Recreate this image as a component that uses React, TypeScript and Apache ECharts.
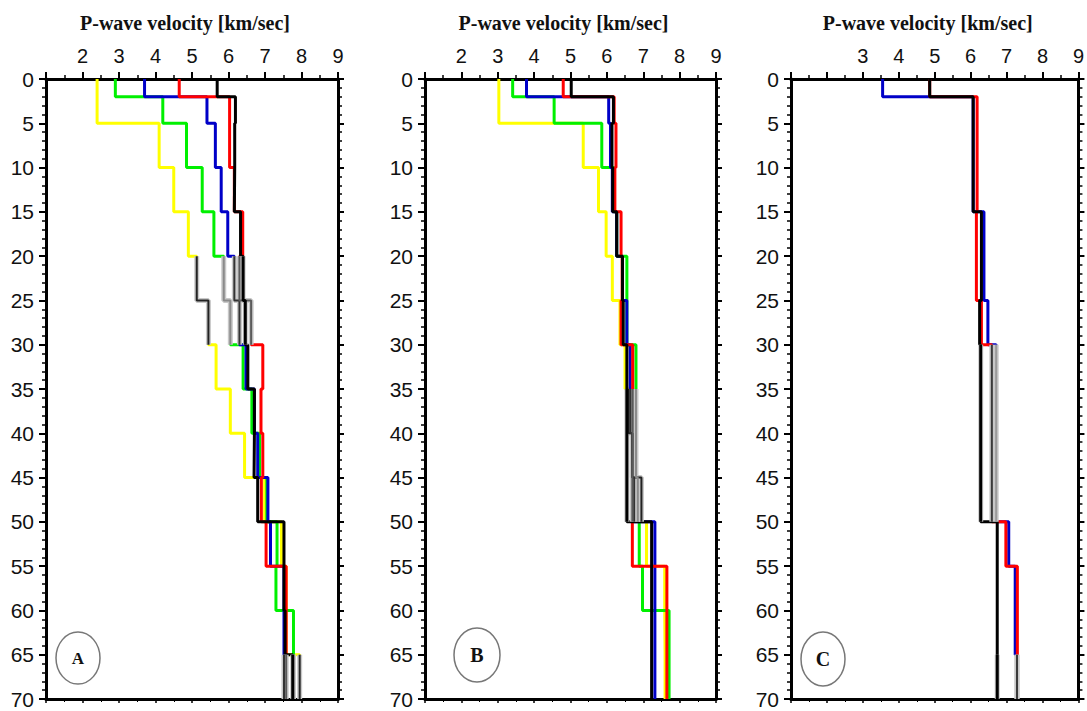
import React, { useEffect, useRef } from "react";
import * as echarts from "echarts";

// ---------------- data ----------------
// layer boundaries (km): each velocity below belongs to the layer DEPTHS[i]..DEPTHS[i+1]
const DEPTHS = [0, 2, 5, 10, 15, 20, 25, 30, 35, 40, 45, 50, 55, 60, 65, 70];
const AXIS_TITLE = "P-wave velocity [km/sec]";
const TOP_LABELS_AB = [2, 3, 4, 5, 6, 7, 8, 9];
const TOP_LABELS_C = [3, 4, 5, 6, 7, 8, 9];
const PANEL_LETTERS = ["A", "B", "C"];

// Panel A velocity profiles (km/s)
const A_YELLOW = [2.4, 2.4, 4.1, 4.5, 4.9, 5.13, 5.45, 5.66, 6.05, 6.44, 6.99, 7.45, 7.58, 7.58, 7.95];
const A_GREEN = [2.9, 4.2, 4.85, 5.28, 5.6, 5.87, 6.05, 6.4, 6.64, 6.85, 7.05, 7.33, 7.3, 7.78, 7.78];
const A_BLUE = [3.7, 5.41, 5.64, 5.8, 5.98, 6.16, 6.3, 6.48, 6.71, 6.8, 7.08, 7.15, 7.52, 7.52, 7.52];
const A_RED = [4.65, 6.03, 6.03, 6.16, 6.39, 6.3, 6.62, 6.94, 6.89, 6.94, 6.9, 7.03, 7.58, 7.58, 7.58];
const A_BLACK = [5.69, 6.19, 6.17, 6.16, 6.33, 6.4, 6.46, 6.53, 6.71, 6.7, 6.8, 7.52, 7.52, 7.55, 7.76];
const A_GRAY_BANDS = [[20, 30], [65, 70]];

// Panel B velocity profiles (km/s)
const B_YELLOW = [3.03, 3.03, 5.35, 5.77, 5.98, 6.15, 6.36, 6.5, 6.6, 6.7, 6.95, 7.09, 7.59, 7.6, 7.6];
const B_GREEN = [3.41, 4.55, 5.86, 6.2, 6.27, 6.55, 6.55, 6.8, 6.8, 6.8, 6.85, 6.89, 6.98, 7.71, 7.71];
const B_BLUE = [3.79, 6.05, 6.1, 6.15, 6.27, 6.43, 6.55, 6.64, 6.65, 6.7, 6.75, 7.32, 7.32, 7.32, 7.32];
const B_RED = [4.8, 6.2, 6.25, 6.22, 6.39, 6.42, 6.39, 6.71, 6.71, 6.7, 6.7, 6.7, 7.65, 7.65, 7.65];
const B_BLACK = [5.02, 6.18, 6.14, 6.16, 6.27, 6.43, 6.45, 6.55, 6.55, 6.55, 6.55, 7.23, 7.23, 7.23, 7.23];
const B_GRAY_BANDS = [[35, 50]];

// Panel C velocity profiles (km/s)
const C_BLUE = [3.55, 6.07, 6.07, 6.07, 6.37, 6.37, 6.48, 6.71, 6.71, 6.71, 6.71, 7.06, 7.24, 7.24, 7.29];
const C_RED = [4.86, 6.18, 6.18, 6.18, 6.16, 6.16, 6.3, 6.59, 6.59, 6.59, 6.59, 6.98, 7.3, 7.3, 7.29];
const C_BLACK = [4.86, 6.07, 6.07, 6.07, 6.3, 6.3, 6.25, 6.28, 6.28, 6.28, 6.28, 6.74, 6.74, 6.74, 6.74];
const C_GRAY_BANDS = [[30, 50], [65, 70]];

const COLORS: Record<string, string> = {
  yellow: "#ffff00",
  green: "#00f000",
  blue: "#0000c8",
  red: "#ff0000",
  black: "#000000",
};

const PANELS = [
  {
    profiles: [[A_YELLOW, "yellow"], [A_GREEN, "green"], [A_BLUE, "blue"], [A_RED, "red"], [A_BLACK, "black"]],
    // how each profile looks inside the scanned grey bands
    bandColors: ["#222222", "#8a8a8a", "#333333", "#5a5a5a", "#000000"],
    bands: A_GRAY_BANDS,
    labels: TOP_LABELS_AB,
  },
  {
    profiles: [[B_YELLOW, "yellow"], [B_GREEN, "green"], [B_BLUE, "blue"], [B_RED, "red"], [B_BLACK, "black"]],
    bandColors: ["#222222", "#8a8a8a", "#333333", "#5a5a5a", "#000000"],
    bands: B_GRAY_BANDS,
    labels: TOP_LABELS_AB,
  },
  {
    profiles: [[C_BLUE, "blue"], [C_RED, "red"], [C_BLACK, "black"]],
    bandColors: ["#9a9a9a", "#3a3a3a", "#000000"],
    bands: C_GRAY_BANDS,
    labels: TOP_LABELS_C,
  },
];

// ---------------- layout ----------------
const GRID_TOP = 79;
const GRID_H = 620;
const GRID_LEFTS = [46, 425, 791];
const GRID_W = [292, 291, 291];
const BADGES = [
  { dx: 32, cy: 658, rx: 22, ry: 26, size: 17 },
  { dx: 52, cy: 655, rx: 23, ry: 27, size: 20 },
  { dx: 32, cy: 659, rx: 22, ry: 27, size: 20 },
];

function stepPoints(vel: number[], d0 = 0, d1 = 70) {
  const pts: number[][] = [];
  for (let i = 0; i < vel.length; i++) {
    const top = DEPTHS[i];
    const bot = DEPTHS[i + 1];
    if (bot <= d0 || top >= d1) continue;
    pts.push([vel[i], Math.max(top, d0)], [vel[i], Math.min(bot, d1)]);
  }
  return pts;
}

function buildOption() {
  const grid: any[] = [];
  const xAxis: any[] = [];
  const yAxis: any[] = [];
  const series: any[] = [];
  const graphic: any[] = [];

  PANELS.forEach((p, k) => {
    grid.push({ left: GRID_LEFTS[k], top: GRID_TOP, width: GRID_W[k], height: GRID_H, containLabel: false });
    const labels = p.labels;
    xAxis.push({
      gridIndex: k,
      type: "value",
      position: "top",
      min: 1,
      max: 9,
      interval: 1,
      name: AXIS_TITLE,
      nameLocation: "middle",
      nameGap: 46,
      nameTextStyle: {
        fontFamily: "Liberation Serif",
        fontWeight: "bold",
        fontSize: 20,
        color: "#111",
        padding: [0, 14, 0, 0],
      },
      axisLine: { show: true, onZero: false, lineStyle: { color: "#000", width: 3 } },
      axisTick: { show: true, inside: false, length: 7, lineStyle: { color: "#000", width: 2 } },
      minorTick: { show: true, splitNumber: 2, length: 4, lineStyle: { color: "#000", width: 1.5 } },
      axisLabel: {
        show: true,
        margin: 13,
        fontFamily: "Liberation Sans",
        fontSize: 20,
        color: "#111",
        formatter: (v: number) => (labels.includes(v) ? String(v) : ""),
      },
      splitLine: { show: false },
      minorSplitLine: { show: false },
    });
    xAxis.push({
      gridIndex: k,
      type: "value",
      position: "bottom",
      min: 1,
      max: 9,
      interval: 1,
      axisLine: { show: true, onZero: false, lineStyle: { color: "#000", width: 3 } },
      axisTick: { show: true, inside: false, length: 4, lineStyle: { color: "#000", width: 1.5 } },
      minorTick: { show: true, splitNumber: 2, length: 3, lineStyle: { color: "#000", width: 1 } },
      axisLabel: { show: false },
      splitLine: { show: false },
    });
    yAxis.push({
      gridIndex: k,
      type: "value",
      position: "left",
      inverse: true,
      min: 0,
      max: 70,
      interval: 5,
      axisLine: { show: true, onZero: false, lineStyle: { color: "#000", width: 3 } },
      axisTick: { show: true, inside: false, length: 7, lineStyle: { color: "#000", width: 2 } },
      minorTick: { show: true, splitNumber: 5, length: 4, lineStyle: { color: "#000", width: 1.5 } },
      axisLabel: { show: true, margin: 12, fontFamily: "Liberation Sans", fontSize: 21, color: "#111" },
      splitLine: { show: false },
    });
    yAxis.push({
      gridIndex: k,
      type: "value",
      position: "right",
      inverse: true,
      min: 0,
      max: 70,
      interval: 5,
      axisLine: { show: true, onZero: false, lineStyle: { color: "#000", width: 3 } },
      axisTick: { show: true, inside: false, length: 6, lineStyle: { color: "#000", width: 2 } },
      minorTick: { show: true, splitNumber: 5, length: 4, lineStyle: { color: "#000", width: 1.5 } },
      axisLabel: { show: false },
      splitLine: { show: false },
    });

    p.profiles.forEach(([vel, colorName], j) => {
      series.push({
        type: "line",
        xAxisIndex: 2 * k,
        yAxisIndex: 2 * k,
        data: stepPoints(vel as number[]),
        symbol: "none",
        silent: true,
        z: 2 + j,
        lineStyle: { color: COLORS[colorName as string], width: 3 },
      });
    });
    // scanned grey/black bands of the original figure
    p.bands.forEach(([d0, d1]) => {
      p.profiles.forEach(([vel], j) => {
        const pts = stepPoints(vel as number[], d0, d1);
        const c = p.bandColors[j];
        const isBlack = c === "#000000";
        series.push({
          type: "line",
          xAxisIndex: 2 * k,
          yAxisIndex: 2 * k,
          data: pts,
          symbol: "none",
          silent: true,
          z: 10,
          lineStyle: { color: "#c8c8c8", width: 5 },
        });
        series.push({
          type: "line",
          xAxisIndex: 2 * k,
          yAxisIndex: 2 * k,
          data: pts,
          symbol: "none",
          silent: true,
          z: isBlack ? 12 : 11,
          lineStyle: { color: c, width: isBlack ? 3 : 2 },
        });
      });
    });

    const b = BADGES[k];
    const cx = GRID_LEFTS[k] + b.dx;
    graphic.push({
      type: "ellipse",
      shape: { cx, cy: b.cy, rx: b.rx, ry: b.ry },
      style: { fill: "none", stroke: "#777", lineWidth: 1.5 },
      z: 20,
    });
    graphic.push({
      type: "text",
      x: cx,
      y: b.cy,
      style: {
        text: PANEL_LETTERS[k],
        fontFamily: "Liberation Serif",
        fontWeight: "bold",
        fontSize: b.size,
        fill: "#111",
        align: "center",
        verticalAlign: "middle",
        textAlign: "center",
        textVerticalAlign: "middle",
      },
      z: 21,
    });
  });

  return {
    animation: false,
    backgroundColor: "#ffffff",
    grid,
    xAxis,
    yAxis,
    series,
    graphic,
  };
}

export default function App() {
  const ref = useRef<HTMLDivElement>(null);
  useEffect(() => {
    if (!ref.current) return;
    const chart = echarts.init(ref.current, undefined, { renderer: "svg" });
    chart.setOption(buildOption() as any);
    return () => chart.dispose();
  }, []);
  return (
    <div
      ref={ref}
      style={{ position: "fixed", left: 0, top: 0, width: 1087, height: 711, background: "#fff" }}
    />
  );
}
